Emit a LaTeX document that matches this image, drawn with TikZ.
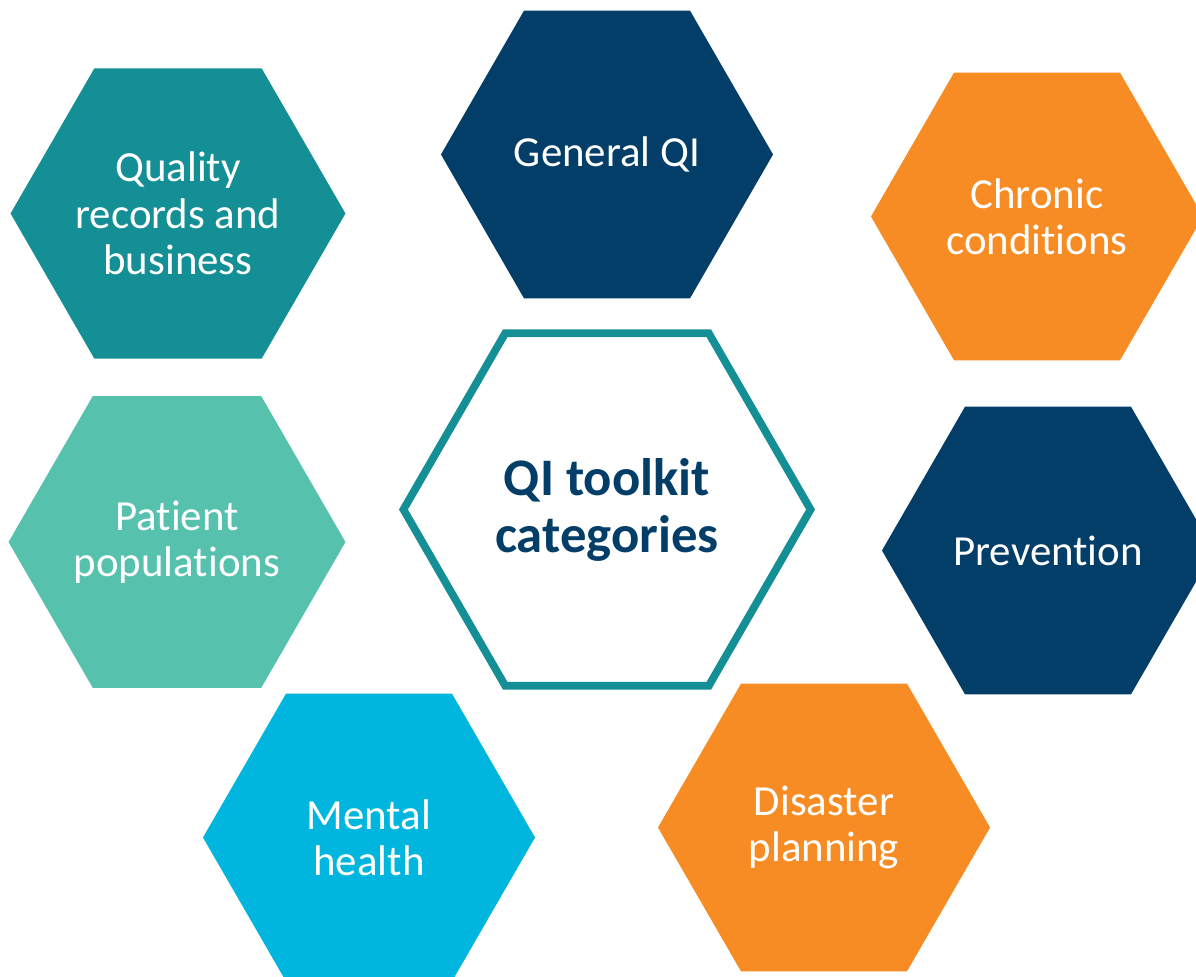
\documentclass[tikz,border=0pt]{standalone}
\usepackage{fontspec}
\setmainfont[Ligatures=NoCommon]{Carlito}
\usetikzlibrary{shapes.geometric}
\definecolor{qiteal}{HTML}{138F95}
\definecolor{qinavy}{HTML}{033E68}
\definecolor{qiorange}{HTML}{F68C23}
\definecolor{qimint}{HTML}{56C2AE}
\definecolor{qicyan}{HTML}{00B5DE}

\begin{document}
\begin{tikzpicture}[
  x=0.025cm, y=-0.025cm,
  hexbox/.style={regular polygon, regular polygon sides=6, minimum size=8.3cm, inner sep=0pt, outer sep=0pt, text=white, align=center, font=\fontsize{30.5}{33}\selectfont},
  hubbox/.style={regular polygon, regular polygon sides=6, minimum size=10.175cm, inner sep=0pt, draw=qiteal, line width=5.5pt, fill=white, text=qinavy, align=center, font=\bfseries\fontsize{37.5}{40.5}\selectfont}
]
  \clip (0,0) rectangle (1196,977);
  % outer ring of categories
  \node[hexbox, fill=qiteal] (quality) at (178,213.5) {Quality\\records and\\business};
  \node[hexbox, fill=qinavy] (general) at (607,154.5) {General QI};
  \node[hexbox, fill=qiorange] (chronic) at (1037,216.5) {Chronic\\conditions};
  \node[hexbox, fill=qimint] (patient) at (177,542) {Patient\\populations};
  \node[hexbox, fill=qinavy] (prevention) at (1048,550.5) {Prevention};
  \node[hexbox, fill=qicyan] (mental) at (369,837.5) {Mental\\health};
  \node[hexbox, fill=qiorange] (disaster) at (824,827.5) {Disaster\\planning};
  % centre
  \node[hubbox] (hub) at (607,509.5) {QI toolkit\\categories};
\end{tikzpicture}
\end{document}
